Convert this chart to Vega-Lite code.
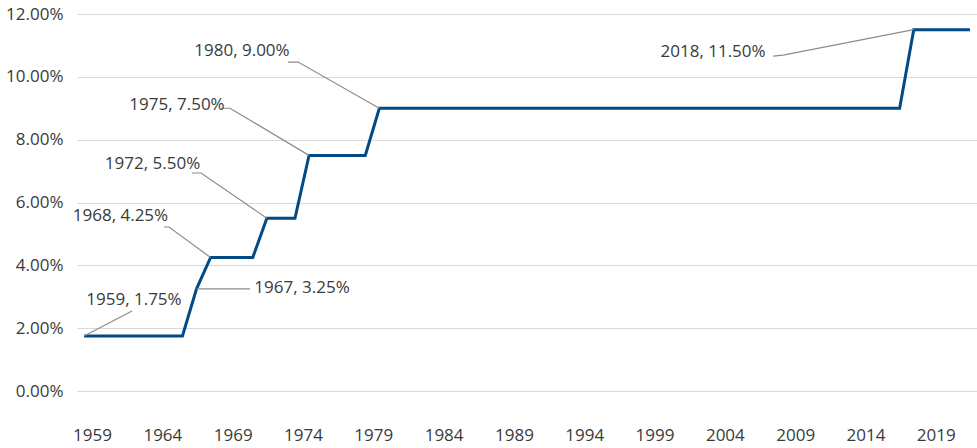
{
  "$schema": "https://vega.github.io/schema/vega-lite/v6.json",
  "width": 900,
  "height": 377,
  "autosize": {"type": "none"},
  "padding": {"left": 77, "top": 14, "right": 0, "bottom": 57},
  "background": "white",
  "config": {
    "view": {"stroke": null},
    "font": "Open Sans",
    "axis": {"labelFont": "Open Sans", "labelFontSize": 17, "labelColor": "#3a3a3a"}
  },
  "datasets": {
    "rates": [
      {"year": 1959, "rate": 0.0175}, {"year": 1960, "rate": 0.0175}, {"year": 1961, "rate": 0.0175},
      {"year": 1962, "rate": 0.0175}, {"year": 1963, "rate": 0.0175}, {"year": 1964, "rate": 0.0175},
      {"year": 1965, "rate": 0.0175}, {"year": 1966, "rate": 0.0175}, {"year": 1967, "rate": 0.0325},
      {"year": 1968, "rate": 0.0425}, {"year": 1969, "rate": 0.0425}, {"year": 1970, "rate": 0.0425},
      {"year": 1971, "rate": 0.0425}, {"year": 1972, "rate": 0.055}, {"year": 1973, "rate": 0.055},
      {"year": 1974, "rate": 0.055}, {"year": 1975, "rate": 0.075}, {"year": 1976, "rate": 0.075},
      {"year": 1977, "rate": 0.075}, {"year": 1978, "rate": 0.075}, {"year": 1979, "rate": 0.075},
      {"year": 1980, "rate": 0.09}, {"year": 1981, "rate": 0.09}, {"year": 1982, "rate": 0.09},
      {"year": 1983, "rate": 0.09}, {"year": 1984, "rate": 0.09}, {"year": 1985, "rate": 0.09},
      {"year": 1986, "rate": 0.09}, {"year": 1987, "rate": 0.09}, {"year": 1988, "rate": 0.09},
      {"year": 1989, "rate": 0.09}, {"year": 1990, "rate": 0.09}, {"year": 1991, "rate": 0.09},
      {"year": 1992, "rate": 0.09}, {"year": 1993, "rate": 0.09}, {"year": 1994, "rate": 0.09},
      {"year": 1995, "rate": 0.09}, {"year": 1996, "rate": 0.09}, {"year": 1997, "rate": 0.09},
      {"year": 1998, "rate": 0.09}, {"year": 1999, "rate": 0.09}, {"year": 2000, "rate": 0.09},
      {"year": 2001, "rate": 0.09}, {"year": 2002, "rate": 0.09}, {"year": 2003, "rate": 0.09},
      {"year": 2004, "rate": 0.09}, {"year": 2005, "rate": 0.09}, {"year": 2006, "rate": 0.09},
      {"year": 2007, "rate": 0.09}, {"year": 2008, "rate": 0.09}, {"year": 2009, "rate": 0.09},
      {"year": 2010, "rate": 0.09}, {"year": 2011, "rate": 0.09}, {"year": 2012, "rate": 0.09},
      {"year": 2013, "rate": 0.09}, {"year": 2014, "rate": 0.09}, {"year": 2015, "rate": 0.09},
      {"year": 2016, "rate": 0.09}, {"year": 2017, "rate": 0.09}, {"year": 2018, "rate": 0.115},
      {"year": 2019, "rate": 0.115}, {"year": 2020, "rate": 0.115}, {"year": 2021, "rate": 0.115},
      {"year": 2022, "rate": 0.115}
    ],
    "leaders": [
      {"id": "a1959", "seq": 1, "year": 1962.41, "rate": 0.02546},
      {"id": "a1959", "seq": 2, "year": 1959, "rate": 0.0175},
      {"id": "a1967", "seq": 1, "year": 1970.8, "rate": 0.0325},
      {"id": "a1967", "seq": 2, "year": 1967, "rate": 0.0325},
      {"id": "a1968", "seq": 1, "year": 1964.69, "rate": 0.0522},
      {"id": "a1968", "seq": 2, "year": 1965.04, "rate": 0.0522},
      {"id": "a1968", "seq": 3, "year": 1968, "rate": 0.0425},
      {"id": "a1972", "seq": 1, "year": 1966.68, "rate": 0.06939},
      {"id": "a1972", "seq": 2, "year": 1967.32, "rate": 0.06939},
      {"id": "a1972", "seq": 3, "year": 1972, "rate": 0.055},
      {"id": "a1975", "seq": 1, "year": 1968.74, "rate": 0.09},
      {"id": "a1975", "seq": 2, "year": 1969.38, "rate": 0.09},
      {"id": "a1975", "seq": 3, "year": 1975, "rate": 0.075},
      {"id": "a1980", "seq": 1, "year": 1973.5, "rate": 0.1047},
      {"id": "a1980", "seq": 2, "year": 1974.22, "rate": 0.1047},
      {"id": "a1980", "seq": 3, "year": 1980, "rate": 0.09},
      {"id": "a2018", "seq": 1, "year": 2008.0, "rate": 0.1066},
      {"id": "a2018", "seq": 2, "year": 2008.71, "rate": 0.1069},
      {"id": "a2018", "seq": 3, "year": 2018, "rate": 0.115}
    ],
    "labels": [
      {"label": "1959, 1.75%", "labelYear": 1962.55, "labelRate": 0.02897},
      {"label": "1967, 3.25%", "labelYear": 1974.5, "labelRate": 0.03278},
      {"label": "1968, 4.25%", "labelYear": 1961.59, "labelRate": 0.0557},
      {"label": "1972, 5.50%", "labelYear": 1963.87, "labelRate": 0.07225},
      {"label": "1975, 7.50%", "labelYear": 1965.61, "labelRate": 0.09103},
      {"label": "1980, 9.00%", "labelYear": 1970.23, "labelRate": 0.10822},
      {"label": "2018, 11.50%", "labelYear": 2003.73, "labelRate": 0.1079}
    ]
  },
  "layer": [
    {
      "data": {"name": "rates"},
      "mark": {"type": "line", "color": "#004A86", "strokeWidth": 3, "strokeJoin": "miter"},
      "encoding": {
        "x": {
          "field": "year", "type": "quantitative",
          "scale": {"domain": [1958.5, 2022.5], "nice": false, "zero": false},
          "axis": {
            "title": null, "grid": false, "domain": false, "ticks": false,
            "values": [1959, 1964, 1969, 1974, 1979, 1984, 1989, 1994, 1999, 2004, 2009, 2014, 2019],
            "format": "d", "labelPadding": 36, "labelOffset": 8, "labelFlush": false
          }
        },
        "y": {
          "field": "rate", "type": "quantitative",
          "scale": {"domain": [0, 0.12], "nice": false},
          "axis": {
            "title": null, "grid": true, "gridColor": "#d9d9d9", "gridWidth": 1,
            "domain": false, "ticks": false, "format": ".2%",
            "values": [0, 0.02, 0.04, 0.06, 0.08, 0.1, 0.12], "labelPadding": 14
          }
        }
      }
    },
    {
      "data": {"name": "leaders"},
      "mark": {"type": "line", "color": "#8c8c8c", "strokeWidth": 1.2},
      "encoding": {
        "x": {"field": "year", "type": "quantitative"},
        "y": {"field": "rate", "type": "quantitative"},
        "detail": {"field": "id"},
        "order": {"field": "seq"}
      }
    },
    {
      "data": {"name": "labels"},
      "mark": {"type": "text", "font": "Open Sans", "fontSize": 17, "color": "#3a3a3a", "align": "center", "baseline": "middle"},
      "encoding": {
        "x": {"field": "labelYear", "type": "quantitative"},
        "y": {"field": "labelRate", "type": "quantitative"},
        "text": {"field": "label"}
      }
    }
  ]
}
